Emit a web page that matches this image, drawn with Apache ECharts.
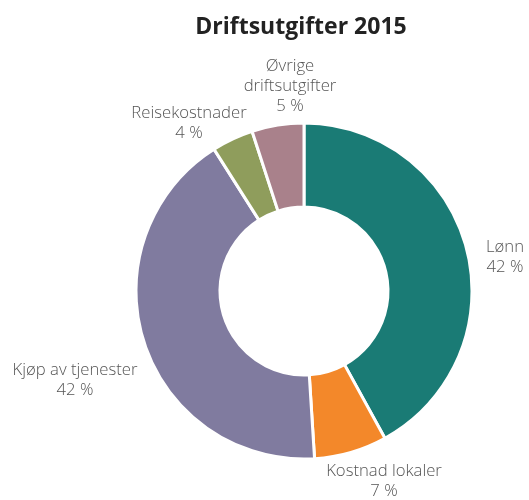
<!DOCTYPE html>
<html lang="no" style="height: 100%">
<head>
  <meta charset="utf-8">
  <title>Driftsutgifter 2015</title>
  <script src="https://cdn.jsdelivr.net/npm/echarts@6/dist/echarts.min.js"></script>
</head>
<body style="height: 100%; margin: 0; background: #fff;">
  <div id="container" style="width: 529px; height: 500px;"></div>
  <script type="text/javascript">
    // data
    var names = ['Lønn', 'Kostnad lokaler', 'Kjøp av tjenester', 'Reisekostnader', 'Øvrige\ndriftsutgifter'];
    var shares = [42, 7, 42, 4, 5];
    var colors = ['#1a7b75', '#f3882a', '#807b9f', '#8f9d5c', '#a9818b'];

    // where each label sits (label centre, px)
    var labelSpots = [[505, 257], [384, 481], [75, 380], [189, 123], [290, 86]];

    var myChart = echarts.init(document.getElementById('container'), null, { renderer: 'canvas' });

    var option = {
      backgroundColor: '#ffffff',
      animation: false,
      title: {
        text: 'Driftsutgifter 2015',
        left: 296,
        top: 11,
        textAlign: 'center',
        textStyle: {
          fontFamily: 'Open Sans',
          fontWeight: 'bold',
          fontSize: 23,
          color: '#222222'
        }
      },
      series: [
        {
          type: 'pie',
          center: [304, 291],
          radius: [84, 168],
          startAngle: 90,
          clockwise: true,
          data: names.map(function (n, i) {
            return { name: n, value: shares[i], itemStyle: { color: colors[i] } };
          }),
          itemStyle: {
            borderColor: '#ffffff',
            borderWidth: 3
          },
          label: {
            show: true,
            position: 'outside',
            formatter: '{b}\n{c} %',
            fontFamily: 'Open Sans',
            fontWeight: 300,
            fontSize: 16.7,
            lineHeight: 20,
            color: '#555555',
            align: 'center',
            overflow: 'none',
            width: 200
          },
          labelLine: { show: false },
          labelLayout: function (params) {
            var p = labelSpots[params.dataIndex];
            return { x: p[0], y: p[1], align: 'center', verticalAlign: 'middle' };
          },
          emphasis: { disabled: true }
        }
      ]
    };

    myChart.setOption(option);
  </script>
</body>
</html>
